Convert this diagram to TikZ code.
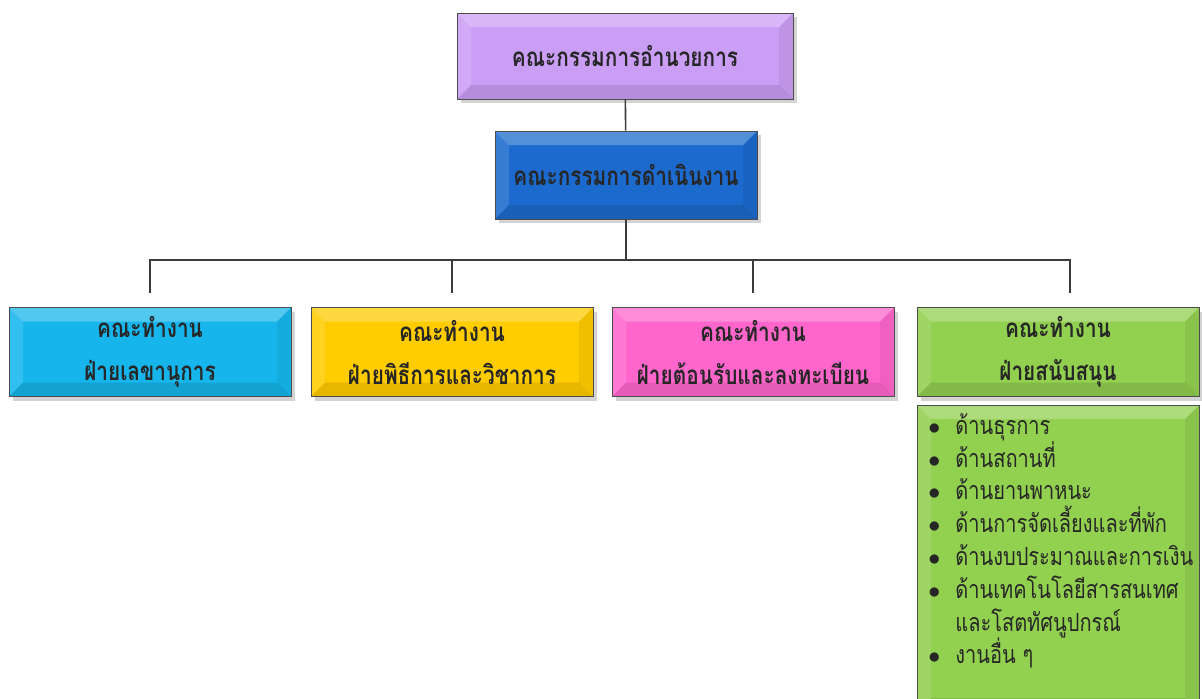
\documentclass[tikz,border=0pt]{standalone}
\usepackage{fontspec}
\newfontfamily\thaifont[Script=Thai, FakeStretch=0.8]{Loma}
\usetikzlibrary{positioning,shadows}

\definecolor{dirviolet}{RGB}{203,158,245}
\definecolor{opsblue}{RGB}{28,106,206}
\definecolor{secycyan}{RGB}{22,182,236}
\definecolor{ceregold}{RGB}{255,204,0}
\definecolor{regpink}{RGB}{255,102,204}
\definecolor{supgreen}{RGB}{146,208,80}
\definecolor{linkgray}{RGB}{60,60,60}

\begin{document}
\begin{tikzpicture}[x=0.5pt, y=-0.5pt,
    bevel/.style={path picture={
        \fill[white, opacity=.25] (path picture bounding box.north west) -- (path picture bounding box.north east)
            -- ([shift={(-7pt,-7pt)}]path picture bounding box.north east) -- ([shift={(7pt,-7pt)}]path picture bounding box.north west) -- cycle;
        \fill[white, opacity=.12] (path picture bounding box.north west) -- (path picture bounding box.south west)
            -- ([shift={(7pt,7pt)}]path picture bounding box.south west) -- ([shift={(7pt,-7pt)}]path picture bounding box.north west) -- cycle;
        \fill[black, opacity=.1] (path picture bounding box.south west) -- (path picture bounding box.south east)
            -- ([shift={(-7pt,7pt)}]path picture bounding box.south east) -- ([shift={(7pt,7pt)}]path picture bounding box.south west) -- cycle;
        \fill[black, opacity=.06] (path picture bounding box.north east) -- (path picture bounding box.south east)
            -- ([shift={(-7pt,7pt)}]path picture bounding box.south east) -- ([shift={(-7pt,-7pt)}]path picture bounding box.north east) -- cycle;
    }},
    box/.style={rectangle, draw=black!70, line width=0.5pt, bevel, align=center, text=black!85,
        drop shadow={shadow xshift=2pt, shadow yshift=-2pt, opacity=.35},
        font=\thaifont\bfseries\fontsize{13}{21.5}\selectfont},
    teambox/.style={box, minimum width=141pt, minimum height=44.5pt},
    link/.style={draw=linkgray, line width=0.8pt}]

    \useasboundingbox (0,0) rectangle (1202,698);

    % คณะกรรมการ
    \node[box, fill=dirviolet, minimum width=168pt, minimum height=43pt] (dir) at (625,56) {คณะกรรมการอำนวยการ};
    \node[box, fill=opsblue, minimum width=131pt, minimum height=44pt] (ops) at (626,175) {คณะกรรมการดำเนินงาน};

    % คณะทำงาน 4 ฝ่าย
    \node[teambox, fill=secycyan] (secy) at (150,352) {คณะทำงาน\\ฝ่ายเลขานุการ};
    \node[teambox, fill=ceregold] (cere) at (452,352) {คณะทำงาน\\ฝ่ายพิธีการและวิชาการ};
    \node[teambox, fill=regpink] (reg) at (753,352) {คณะทำงาน\\ฝ่ายต้อนรับและลงทะเบียน};
    \node[teambox, fill=supgreen] (sup) at (1058,352) {คณะทำงาน\\ฝ่ายสนับสนุน};

    % เส้นเชื่อม
    \coordinate (bus) at (626,260);
    \draw[link] (dir) -- (ops);
    \draw[link] (ops) -- (bus);
    \foreach \t in {secy,cere,reg}
        \draw[link, shorten >=7pt] (bus) -| (\t.north);
    \draw[link, shorten >=7pt] (bus) -| ([xshift=6pt]sup.north);

    % งานของฝ่ายสนับสนุน
    \draw[fill=supgreen, draw=black!70, line width=0.5pt, bevel] (917,405) rectangle (1199,712);
    \node[anchor=north west, align=left, inner sep=0pt, text=black!85,
        font=\thaifont\fontsize{12.5}{16.4}\selectfont] (tasks) at (928,413) {%
        \makebox[13.5pt][l]{$\bullet$}ด้านธุรการ\\
        \makebox[13.5pt][l]{$\bullet$}ด้านสถานที่\\
        \makebox[13.5pt][l]{$\bullet$}ด้านยานพาหนะ\\
        \makebox[13.5pt][l]{$\bullet$}ด้านการจัดเลี้ยงและที่พัก\\
        \makebox[13.5pt][l]{$\bullet$}ด้านงบประมาณและการเงิน\\
        \makebox[13.5pt][l]{$\bullet$}ด้านเทคโนโลยีสารสนเทศ\\
        \hspace*{13.5pt}และโสตทัศนูปกรณ์\\
        \makebox[13.5pt][l]{$\bullet$}งานอื่น ๆ};
\end{tikzpicture}
\end{document}
